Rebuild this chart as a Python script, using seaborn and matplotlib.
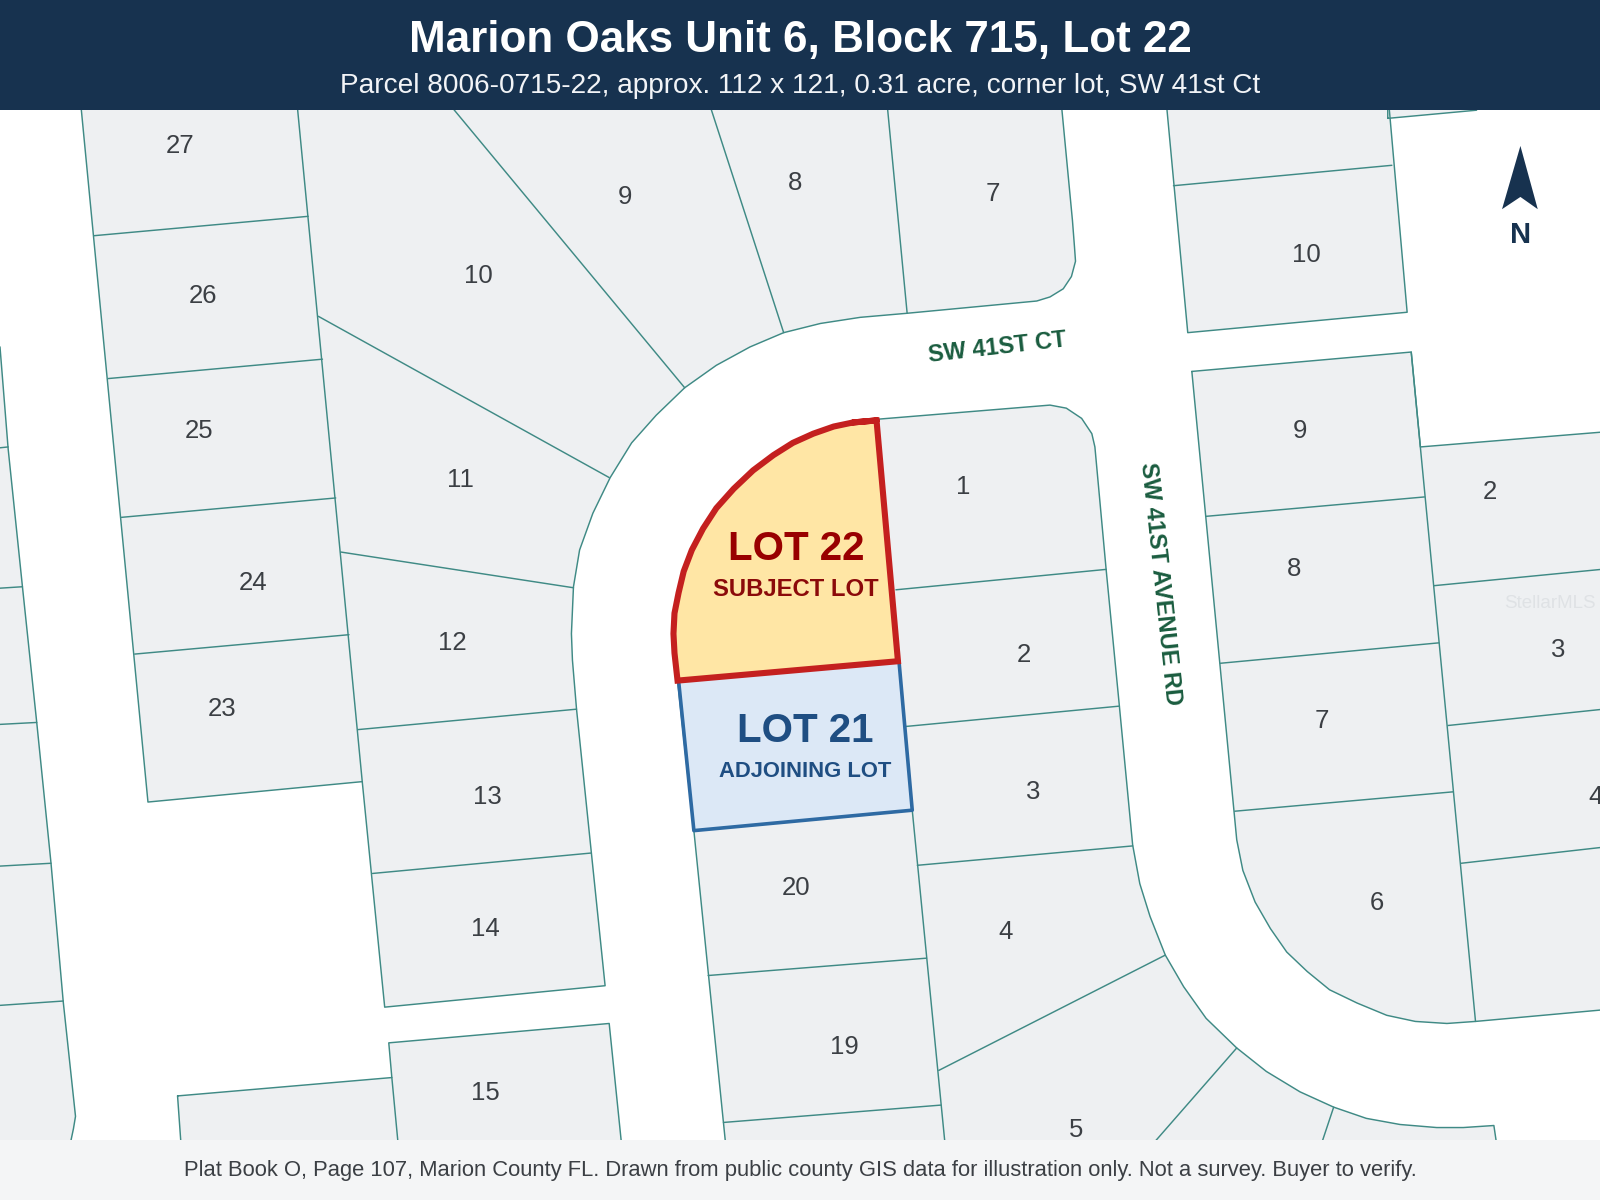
import pandas as pd
import matplotlib
matplotlib.use("Agg")
import matplotlib.pyplot as plt
import seaborn as sns

WIDTH = 1568
HEIGHT = 1176

title = "Marion Oaks Unit 6, Block 715, Lot 22"
subtitle = "Parcel 8006-0715-22, approx. 112 x 121, 0.31 acre, corner lot, SW 41st Ct"
footer = "Plat Book O, Page 107, Marion County FL. Drawn from public county GIS data for illustration only. Not a survey. Buyer to verify."

# block outlines
block_west = [(-40, 344), (0, 340), (8, 440), (22, 575), (36, 708), (50, 846), (62, 982), (74, 1094), (72, 1106), (68, 1125), (-40, 1125)]
block_main = [(78, 90), (145, 786), (355, 766), (377, 987), (593, 966), (565, 695), (561, 647), (560, 621), (562, 575),
              (568, 539), (581, 503), (598, 468), (619, 434), (643, 407), (671, 380), (702, 358), (735, 340),
              (768, 326), (804, 317), (843, 311), (889, 307), (1016, 295), (1029, 291), (1042, 283), (1050, 271),
              (1054, 256), (1053, 242), (1051, 216), (1039, 90)]
block_center = [(858, 411), (1029, 397), (1045, 400), (1060, 410), (1070, 425), (1073, 438), (1084, 558), (1097, 692),
                (1110, 828), (1117, 866), (1127, 898), (1142, 936), (1160, 967), (1182, 998), (1212, 1027),
                (1241, 1050), (1274, 1070), (1307, 1085), (1339, 1096), (1372, 1102), (1408, 1105), (1434, 1105),
                (1464, 1103), (1468, 1130), (712, 1130), (680, 814), (664, 667), (880, 648)]
block_north = [(1142, 90), (1164, 326), (1379, 306), (1360, 90)]
block_north_sliver = [(1360, 116), (1447, 108), (1447, 90), (1360, 90)]
block_east = [(1168, 364), (1383, 345), (1392, 438), (1600, 421), (1600, 987), (1446, 1001), (1418, 1003),
              (1387, 1001), (1359, 995), (1330, 983), (1303, 970), (1281, 952), (1261, 933), (1245, 910),
              (1230, 884), (1218, 853), (1212, 823)]
block_south = [(174, 1074), (384, 1056), (381, 1022), (597, 1003), (610, 1130), (178, 1130)]
blocks = [block_west, block_main, block_center, block_north, block_north_sliver, block_east, block_south]

# lines between lots: x0, y0, x1, y1
lot_lines = [
    (-40, 443, 8, 438), (-40, 579, 22, 575), (-40, 712, 36, 708), (-40, 851, 50, 846), (-40, 988, 62, 981),
    (92, 231, 302, 212), (106, 371, 316, 352), (119, 507, 329, 488), (132, 641, 342, 622),
    (290, 90, 355, 766), (437, 98, 671, 380), (694, 98, 768, 326), (869, 98, 889, 307),
    (312, 310, 597, 468), (334, 541, 562, 576), (351, 715, 565, 695), (365, 856, 579, 836),
    (878, 578, 1084, 558), (887, 712, 1097, 692), (899, 848, 1110, 829), (694, 956, 908, 939),
    (709, 1100, 922, 1083), (894, 794, 927, 1130), (920, 1049, 1142, 936), (1212, 1027, 1122, 1130),
    (1307, 1085, 1292, 1130), (1150, 182, 1364, 162), (1182, 506, 1396, 487), (1196, 650, 1410, 630),
    (1210, 795, 1424, 776), (1383, 345, 1446, 1001), (1405, 574, 1600, 555), (1419, 711, 1600, 692),
    (1432, 846, 1600, 827), (384, 1056, 391, 1130),
]

lot_numbers = ["27", "26", "25", "24", "23", "10", "9", "8", "7", "11", "12", "13", "14", "15",
               "1", "2", "3", "4", "5", "20", "19", "11", "10", "9", "8", "7", "6", "2", "3", "4"]
number_x = [176, 199, 195, 248, 218, 469, 612, 779, 973, 451, 443, 478, 476, 476,
            944, 1003, 1013, 985, 1055, 780, 827, 1252, 1280, 1274, 1268, 1295, 1349, 1460, 1527, 1564]
number_y = [143, 290, 422, 571, 695, 270, 193, 179, 190, 470, 630, 781, 910, 1071,
            477, 642, 776, 913, 1107, 870, 1026, 100, 250, 422, 558, 707, 885, 482, 637, 781]

lot_22 = [(859, 412), (836, 414), (817, 418), (797, 425), (777, 434), (758, 446), (738, 461), (719, 479), (702, 498),
          (689, 518), (678, 539), (670, 560), (665, 581), (661, 601), (660, 621), (661, 640), (664, 667), (880, 648)]
lot_21 = [(665, 667), (881, 648), (894, 794), (680, 814)]

north_arrow = [(1490, 143), (1472, 205), (1490, 193), (1507, 205)]

street_names = ["SW 41ST CT", "SW 41ST AVENUE RD"]
street_x = [977, 1137]
street_y = [341, 572]
street_angle = [6.5, -84]

NAVY = "#17324f"
LOT_FILL = "#eef0f2"
LOT_LINE = "#3f8a85"
NUMBER_COLOR = "#3b3f44"
STREET_COLOR = "#1a5c3f"

sns.set_theme(style="white")
plt.rcParams["font.family"] = ["Liberation Sans", "DejaVu Sans"]


def outline_frame(shapes, overlap=1):
    # closed outlines as long table, one unit per shape
    rows = []
    for n, shape in enumerate(shapes):
        for step, (x, y) in enumerate(shape + shape[:overlap]):
            rows.append({"x": x, "y": y, "unit": n, "step": step})
    return pd.DataFrame(rows)


fig = plt.figure(figsize=(16, 12), dpi=100, facecolor="white")
ax = fig.add_axes([0, 0, 1, 1])

for block in blocks:
    ax.fill([p[0] for p in block], [p[1] for p in block], color=LOT_FILL, lw=0, zorder=1)

sns.lineplot(data=outline_frame(blocks), x="x", y="y", units="unit", estimator=None, sort=False,
             color=LOT_LINE, lw=1.05, legend=False, ax=ax, zorder=2)

segments = pd.DataFrame(lot_lines, columns=["x0", "y0", "x1", "y1"]).reset_index(names="unit")
segments = pd.concat([
    segments[["unit", "x0", "y0"]].set_axis(["unit", "x", "y"], axis=1),
    segments[["unit", "x1", "y1"]].set_axis(["unit", "x", "y"], axis=1),
]).sort_values("unit", kind="stable")
sns.lineplot(data=segments, x="x", y="y", units="unit", estimator=None, sort=False,
             color=LOT_LINE, lw=1.05, legend=False, ax=ax, zorder=2)

# adjoining lot first, the subject lot stroke sits over it
ax.fill([p[0] for p in lot_21], [p[1] for p in lot_21], facecolor="#dce8f6", edgecolor="none", zorder=3)
sns.lineplot(data=outline_frame([lot_21], 2), x="x", y="y", units="unit", estimator=None, sort=False,
             color="#2e6aa3", lw=2.6, legend=False, ax=ax, zorder=4)
ax.fill([p[0] for p in lot_22], [p[1] for p in lot_22], facecolor="#ffe6a5", edgecolor="none", zorder=5)
sns.lineplot(data=outline_frame([lot_22], 2), x="x", y="y", units="unit", estimator=None, sort=False,
             color="#c4201f", lw=4.4, solid_joinstyle="miter", legend=False, ax=ax, zorder=6)

for label, x, y in zip(lot_numbers, number_x, number_y):
    ax.text(x, y, label, fontsize=18.5, color=NUMBER_COLOR, ha="center", va="center", zorder=7)

for name, x, y, angle in zip(street_names, street_x, street_y, street_angle):
    ax.text(x, y, name, fontsize=17, fontweight="bold", color=STREET_COLOR, ha="center", va="center",
            rotation=angle, rotation_mode="anchor", zorder=7)

ax.text(780, 538, "LOT 22", fontsize=29, fontweight="bold", color="#990000", ha="center", va="center", zorder=8)
ax.text(780, 578, "SUBJECT LOT", fontsize=17.2, fontweight="bold", color="#8b0a0a", ha="center", va="center", zorder=8)
ax.text(789, 716, "LOT 21", fontsize=29, fontweight="bold", color="#1f4e82", ha="center", va="center", zorder=8)
ax.text(789, 756, "ADJOINING LOT", fontsize=15.8, fontweight="bold", color="#1f4e82", ha="center", va="center", zorder=8)

ax.fill([p[0] for p in north_arrow], [p[1] for p in north_arrow], color=NAVY, lw=0, zorder=8)
ax.text(1490, 230, "N", fontsize=21, fontweight="bold", color=NAVY, ha="center", va="center", zorder=8)
ax.text(1519, 591, "StellarMLS", fontsize=13.5, color="#dfe2e5", ha="center", va="center", zorder=7)

# header and footer bands hide whatever runs under them
ax.axhspan(0, 108, color=NAVY, lw=0, zorder=10)
ax.axhspan(1117, HEIGHT, color="#f4f5f6", lw=0, zorder=10)
ax.text(784, 40, title, fontsize=31.7, fontweight="bold", color="white", ha="center", va="center", zorder=11)
ax.text(784, 84, subtitle, fontsize=20.2, color="#f2f4f7", ha="center", va="center", zorder=11)
ax.text(784, 1147, footer, fontsize=15.85, color="#3b3f44", ha="center", va="center", zorder=11)

ax.set_xlim(0, WIDTH)
ax.set_ylim(HEIGHT, 0)
ax.set_xlabel("")
ax.set_ylabel("")
ax.axis("off")

fig.savefig("out.png", dpi=100)
